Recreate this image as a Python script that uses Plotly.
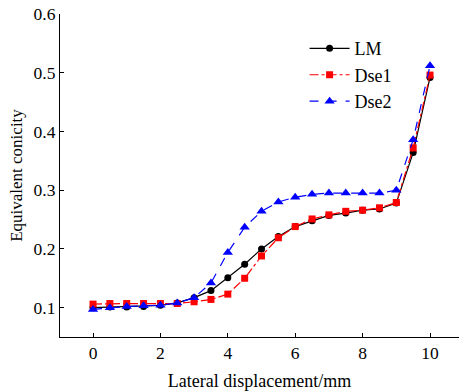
import plotly.graph_objects as go

x = [0, 0.5, 1, 1.5, 2, 2.5, 3, 3.5, 4, 4.5, 5, 5.5, 6, 6.5, 7, 7.5, 8, 8.5, 9, 9.5, 10]
lm = [0.100, 0.101, 0.101, 0.102, 0.104, 0.108, 0.117, 0.129, 0.151, 0.174, 0.200, 0.221, 0.238, 0.248, 0.257, 0.261, 0.266, 0.268, 0.278, 0.364, 0.492]
dse1 = [0.106, 0.107, 0.107, 0.107, 0.107, 0.107, 0.110, 0.114, 0.123, 0.150, 0.188, 0.219, 0.238, 0.251, 0.258, 0.264, 0.266, 0.270, 0.279, 0.372, 0.496]
dse2 = [0.097, 0.100, 0.102, 0.103, 0.104, 0.108, 0.117, 0.142, 0.194, 0.237, 0.264, 0.280, 0.288, 0.293, 0.295, 0.295, 0.295, 0.295, 0.300, 0.386, 0.512]

font = "Liberation Serif, Times New Roman, serif"

fig = go.Figure()
fig.add_trace(go.Scatter(x=x, y=lm, name="LM", mode="lines+markers",
                         line=dict(color="black", width=1.2),
                         marker=dict(symbol="circle", size=7, color="black")))
fig.add_trace(go.Scatter(x=x, y=dse1, name="Dse1", mode="lines+markers",
                         line=dict(color="red", width=1.2, dash="dashdot"),
                         marker=dict(symbol="square", size=7, color="red")))
fig.add_trace(go.Scatter(x=x, y=dse2, name="Dse2", mode="lines+markers",
                         line=dict(color="blue", width=1.2, dash="dash"),
                         marker=dict(symbol="triangle-up", size=9, color="blue")))

fig.update_layout(
    width=459, height=391,
    margin=dict(l=60, r=0, t=14, b=54),
    plot_bgcolor="white", paper_bgcolor="white",
    font=dict(family=font, size=17.5, color="black"),
    legend=dict(x=0.613, y=0.95, xanchor="left", yanchor="top",
                bgcolor="rgba(0,0,0,0)", font=dict(size=18),
                tracegroupgap=0, itemwidth=40),
    xaxis=dict(range=[-0.98, 10.86], tickvals=[0, 2, 4, 6, 8, 10],
               ticks="inside", ticklen=4, tickcolor="black",
               showline=True, linecolor="black", linewidth=1.2,
               showgrid=False, zeroline=False,
               title=dict(text="Lateral displacement/mm", font=dict(size=18), standoff=12)),
    yaxis=dict(range=[0.05, 0.6], tickvals=[0.1, 0.2, 0.3, 0.4, 0.5, 0.6],
               ticktext=["0.1", "0.2", "0.3", "0.4", "0.5", "0.6"],
               ticks="inside", ticklen=4, tickcolor="black",
               showline=True, linecolor="black", linewidth=1.2,
               showgrid=False, zeroline=False,
               title=dict(text="Equivalent conicity", font=dict(size=17), standoff=6)),
)

fig.write_html("out.html")
